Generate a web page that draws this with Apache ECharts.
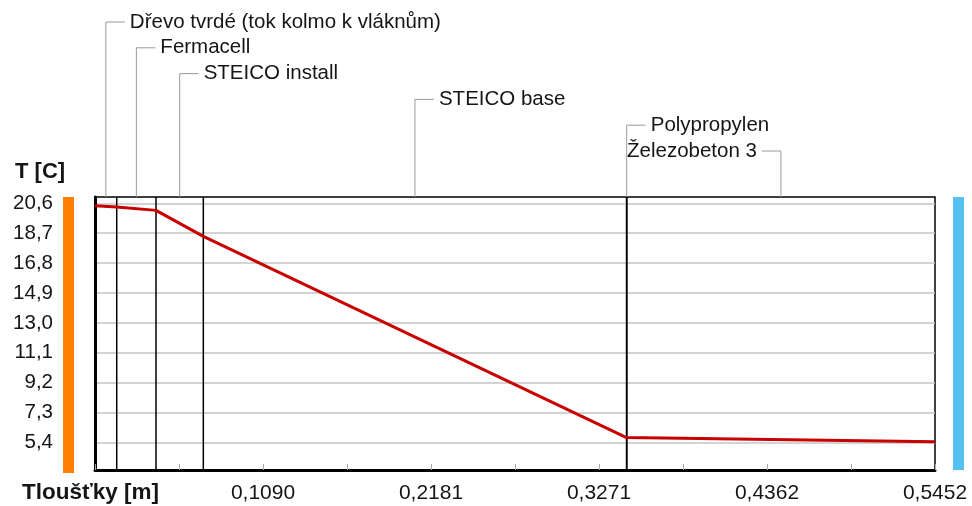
<!DOCTYPE html>
<html>
<head>
<meta charset="utf-8">
<script src="https://cdn.jsdelivr.net/npm/echarts@6/dist/echarts.min.js"></script>
<style>
  html, body { margin: 0; padding: 0; background: #fff; }
  #chart { width: 972px; height: 506px; }
</style>
</head>
<body>
<div id="chart"></div>
<script>
// Wall assembly, inside to outside
const layerNames = [
  'Dřevo tvrdé (tok kolmo k vláknům)',
  'Fermacell',
  'STEICO install',
  'STEICO base',
  'Polypropylen',
  'Železobeton 3'
];
// Layer interfaces [m] and temperatures at each interface [°C]
const layerBounds = [0, 0.0141, 0.0396, 0.0703, 0.3450, 0.3452, 0.5452];
const boundaryTemps = [20.45, 20.36, 20.15, 18.50, 5.71, 5.70, 5.45];
// Axis ticks
const yTicks = [5.4, 7.3, 9.2, 11.1, 13.0, 14.9, 16.8, 18.7, 20.6];
const yMin = 3.65;
const yMax = 21.0;
const xMax = 0.5452;
const xStep = 0.05452;

const FONT = '"Liberation Sans", Arial, sans-serif';
const TEXT = '#151515';

const profile = layerBounds.map((x, i) => [x, boundaryTemps[i]]);
const dec = (v, n) => v.toFixed(n).replace('.', ',');

// one vertical black line per interior interface
const interfaceSeries = layerBounds.slice(1, -1).map(x => ({
  type: 'line', silent: true, z: 1,
  symbol: 'none',
  data: [[x, yMin], [x, yMax]],
  lineStyle: { color: '#000', width: 1.5 }
}));

const chart = echarts.init(document.getElementById('chart'), null, { renderer: 'canvas' });

chart.setOption({
  animation: false,
  backgroundColor: '#fff',
  grid: {
    left: 95, right: 37, top: 197, bottom: 36,
    show: true, borderColor: '#000', borderWidth: 1.5,
    outerBoundsMode: 'none'
  },
  xAxis: {
    type: 'value', min: 0, max: xMax, interval: xStep,
    axisLine: { show: true, onZero: false, lineStyle: { color: '#000', width: 3 } },
    axisTick: { show: true, inside: true, length: 6, lineStyle: { color: '#a8a8a8', width: 1 } },
    axisLabel: {
      margin: 13, color: TEXT, fontSize: 21, fontFamily: FONT,
      showMinLabel: true, showMaxLabel: true,
      formatter: (v) => {
        const k = Math.round(v / xStep);
        return (k > 0 && k % 2 === 0) ? dec(v, 4) : '';
      }
    },
    splitLine: { show: false }
  },
  yAxis: {
    type: 'value', min: yMin, max: yMax,
    axisLine: { show: true, onZero: false, lineStyle: { color: '#000', width: 3 } },
    axisTick: { show: false, customValues: yTicks },
    axisLabel: {
      customValues: yTicks, margin: 42, color: TEXT, fontSize: 20.5, fontFamily: FONT,
      formatter: (v) => dec(v, 1)
    },
    splitLine: { show: true, lineStyle: { color: '#c4c4c4', width: 1.5 } }
  },
  series: interfaceSeries.concat([
    {
      // temperature profile
      type: 'line', data: profile, z: 3,
      symbol: 'none', smooth: false,
      lineStyle: { color: '#c80000', width: 3 }
    }
  ])
});

// Decorations placed from the axis scales
const [xl, yt] = chart.convertToPixel({ gridIndex: 0 }, [0, yMax]);
const [xr, yb] = chart.convertToPixel({ gridIndex: 0 }, [xMax, yMin]);

const gfx = [
  { type: 'rect', shape: { x: xl - 32, y: yt, width: 11, height: yb - yt + 3 }, style: { fill: '#ff8000' } },
  { type: 'rect', shape: { x: xr + 18, y: yt, width: 11, height: yb - yt }, style: { fill: '#55c1f2' } },
  { type: 'text', style: { text: 'T [C]', x: 15, y: 172, font: 'bold 22px ' + FONT, fill: TEXT, textVerticalAlign: 'middle' } },
  { type: 'text', style: { text: 'Tloušťky [m]', x: 22, y: 493, font: 'bold 22.5px ' + FONT, fill: TEXT, textVerticalAlign: 'middle' } }
];

layerNames.forEach((name, i) => {
  const mid = (layerBounds[i] + layerBounds[i + 1]) / 2;
  const mx = chart.convertToPixel({ gridIndex: 0 }, [mid, yMax])[0];
  const rowY = 22 + i * 25.8;
  const left = i === layerNames.length - 1;
  const dir = left ? -1 : 1;
  gfx.push({
    type: 'polyline', silent: true,
    shape: { points: [[mx, yt], [mx, rowY], [mx + dir * 19, rowY]] },
    style: { stroke: '#9a9a9a', lineWidth: 1, fill: null }
  });
  gfx.push({
    type: 'text', silent: true,
    style: {
      text: name, x: mx + dir * 24, y: rowY, font: '20.5px ' + FONT, fill: TEXT,
      textAlign: left ? 'right' : 'left', textVerticalAlign: 'middle'
    }
  });
});

chart.setOption({ graphic: { elements: gfx } });
</script>
</body>
</html>
